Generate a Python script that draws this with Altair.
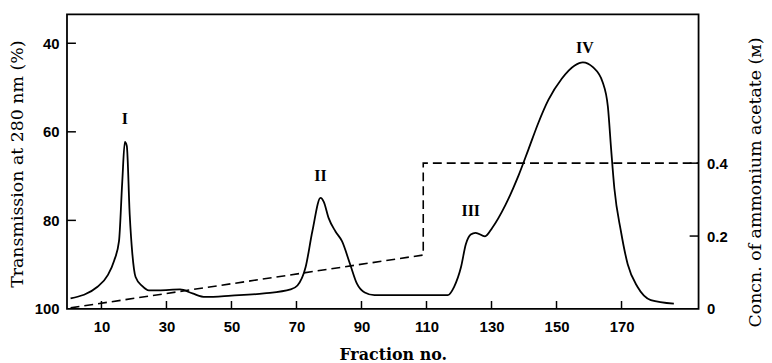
import altair as alt
import pandas as pd

# ---- data ----
fraction = [0.5, 8.8, 12.0, 13.9, 15.4, 16.4, 17.2, 17.8, 18.7, 19.5, 20.5, 22.5, 24.6, 27.6,
            34.2, 38.0, 41.9, 50.0, 60.0, 68.2, 70.3, 72.8, 74.9, 77.4, 78.4, 79.9, 82.0, 84.0,
            86.5, 88.6, 91.0, 94.0, 100.0, 110.0, 116.5, 118.5, 120.6, 122.1, 123.6, 125.1,
            128.0, 130.2, 134.3, 138.3, 141.4, 144.4, 147.5, 151.6, 155.6, 158.1, 161.2, 164.2,
            165.8, 166.8, 167.8, 169.8, 171.9, 174.9, 179.0, 186.1]
transmission = [97.6, 95.0, 92.3, 89.1, 84.7, 71.3, 62.3, 63.2, 78.8, 87.5, 92.8, 94.8, 95.8, 95.8,
                95.6, 96.5, 97.3, 97.0, 96.5, 95.6, 94.7, 90.6, 82.4, 74.9, 75.8, 79.5, 82.5, 84.7,
                89.9, 94.3, 96.3, 96.9, 96.9, 96.9, 96.9, 95.0, 90.6, 85.4, 83.2, 82.8,
                83.6, 81.7, 76.5, 69.9, 63.9, 58.0, 52.8, 48.0, 45.0, 44.3, 45.4, 48.8,
                54.3, 63.9, 72.8, 82.4, 89.9, 95.0, 98.0, 98.8]

conc_fraction = [0.5, 109.0, 109.0, 193.7]
conc = [0.003, 0.148, 0.40, 0.40]

peak_names = ["I", "II", "III", "IV"]
peak_fraction = [17.2, 77.4, 123.6, 158.7]
peak_transmission = [57.2, 69.9, 78.0, 41.1]

x_ticks = [10, 30, 50, 70, 90, 110, 130, 150, 170]
left_ticks = [40, 60, 80, 100]
right_ticks = [0, 0.2, 0.4]

curve_df = pd.DataFrame({"f": fraction, "T": transmission})
conc_df = pd.DataFrame({"f": conc_fraction, "C": conc})
peak_df = pd.DataFrame({"f": peak_fraction, "T": peak_transmission, "name": peak_names})
xt_df = pd.DataFrame({"f": x_ticks})
lt_df = pd.DataFrame({"T": left_ticks[:-1]})
rt_df = pd.DataFrame({"C": right_ticks[1:]})

W, H = 637, 297
SERIF = "DejaVu Serif"
SANS = "Liberation Sans"

x_scale = alt.Scale(domain=[-0.6, 193.7], nice=False, zero=False)
left_scale = alt.Scale(domain=[100, 33.5], nice=False, zero=False)
right_scale = alt.Scale(domain=[0, 0.808], nice=False, zero=False)

x_axis = alt.Axis(values=x_ticks, ticks=False, domain=False, grid=False, labelFlush=False,
                  labelFont=SANS, labelFontSize=15, labelFontWeight="bold", labelPadding=11,
                  labelColor="black", title="Fraction no.", titleFont=SERIF,
                  titleFontSize=16, titleFontWeight="bold", titleColor="black",
                  titleX=328.5, titleY=51, titleAlign="center", titleBaseline="alphabetic")
X = alt.X("f:Q", scale=x_scale, axis=x_axis)

left_axis = alt.Axis(orient="left", values=left_ticks, ticks=False, domain=False, grid=False,
                     labelFont=SANS, labelFontSize=15, labelFontWeight="bold", labelPadding=8,
                     labelColor="black", title="Transmission at 280 nm (%)", titleFont=SERIF,
                     titleFontSize=17.5, titleFontWeight="normal", titleColor="black",
                     titleAngle=270, titleX=-49.5, titleY=150.5, titleAlign="center",
                     titleBaseline="middle")
right_axis = alt.Axis(orient="right", values=right_ticks, ticks=False, domain=False, grid=False,
                      labelExpr="datum.value == 0 ? '0' : format(datum.value, '.1f')",
                      labelFont=SANS, labelFontSize=15, labelFontWeight="bold", labelPadding=8,
                      labelColor="black", title="Concn. of ammonium acetate (ᴍ)", titleFont=SERIF,
                      titleFontSize=17.5, titleFontWeight="normal", titleColor="black",
                      titleAngle=270, titleX=57, titleY=169, titleAlign="center",
                      titleBaseline="middle")

curve = alt.Chart(curve_df).mark_line(color="black", strokeWidth=1.8, interpolate="monotone").encode(
    x=X, y=alt.Y("T:Q", scale=left_scale, axis=left_axis))

dashed = alt.Chart(conc_df).mark_line(color="black", strokeWidth=1.6, strokeDash=[9, 5]).encode(
    x=X, y=alt.Y("C:Q", scale=right_scale, axis=right_axis))

labels = alt.Chart(peak_df).mark_text(font="Liberation Serif", fontSize=16, fontWeight="bold",
                                      color="black", baseline="middle", align="center").encode(
    x=X, y=alt.Y("T:Q", scale=left_scale, axis=None), text="name:N")

xticks = alt.Chart(xt_df).mark_rule(color="black", strokeWidth=1.5).encode(
    x=X, y=alt.value(H), y2=alt.value(H - 8))

lticks = alt.Chart(lt_df).mark_rule(color="black", strokeWidth=1.5).encode(
    y=alt.Y("T:Q", scale=left_scale, axis=None), x=alt.value(0), x2=alt.value(9))

rticks = alt.Chart(rt_df).mark_rule(color="black", strokeWidth=1.5).encode(
    y=alt.Y("C:Q", scale=right_scale, axis=None), x=alt.value(W), x2=alt.value(W - 9))

chart = alt.layer(curve, dashed, labels, xticks, lticks, rticks).resolve_scale(
    y="independent"
).properties(
    width=W, height=H,
    autosize=alt.AutoSizeParams(type="none"),
    padding={"left": 59.5, "top": 5, "right": 66, "bottom": 53},
    background="white",
).configure_view(stroke="black", strokeWidth=1.8)

chart.save("out.html", embed_options={"renderer": "svg", "actions": False})
